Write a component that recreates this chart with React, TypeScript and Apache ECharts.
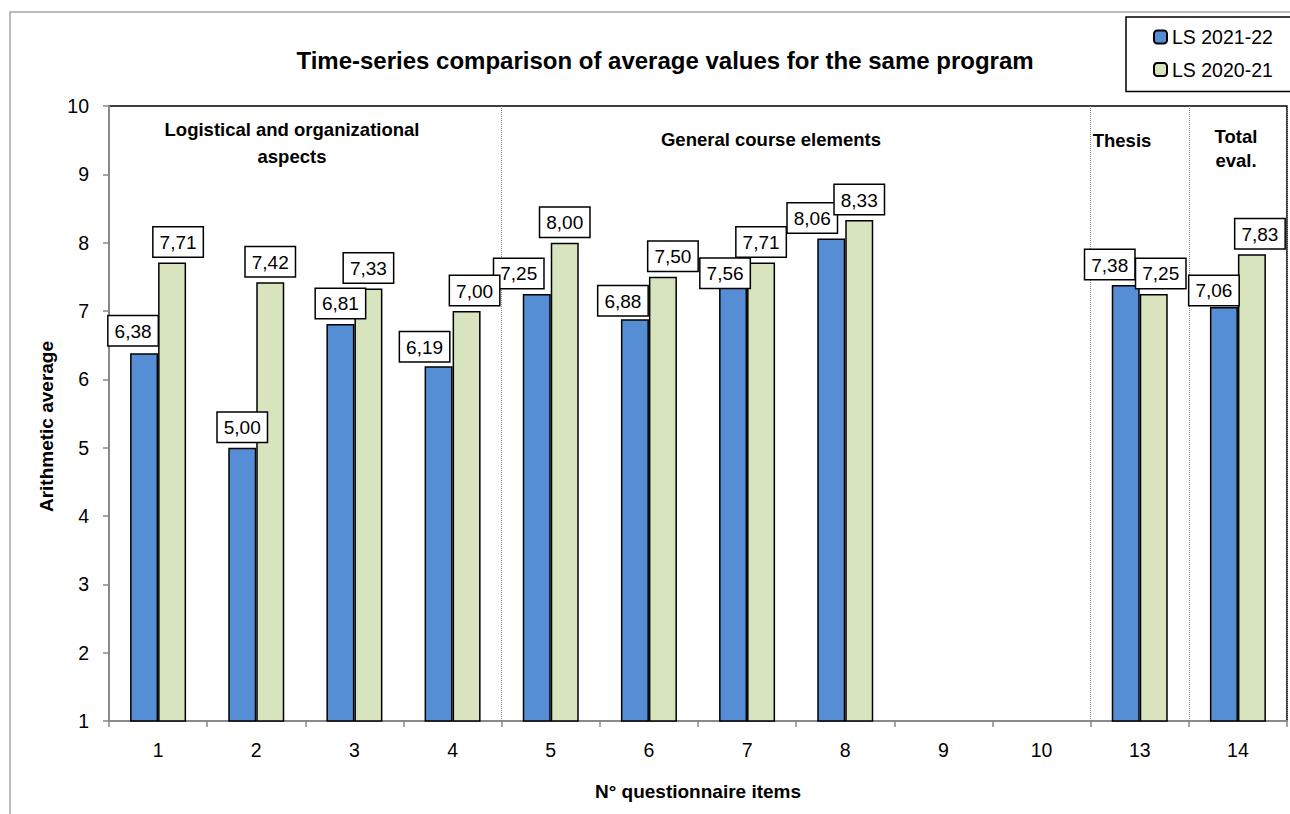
import React, { useEffect, useRef } from "react";
import * as echarts from "echarts";

const CATEGORIES = ["1", "2", "3", "4", "5", "6", "7", "8", "9", "10", "13", "14"];
const SERIES_2021_22 = [6.38, 5.0, 6.81, 6.19, 7.25, 6.88, 7.56, 8.06, 0, 0, 7.38, 7.06];
const SERIES_2020_21 = [7.71, 7.42, 7.33, 7.0, 8.0, 7.5, 7.71, 8.33, 0, 0, 7.25, 7.83];
const Y_TICKS = { min: 1, max: 10, interval: 1 };
const TITLE = "Time-series comparison of average values for the same program";
const SECTION_BREAKS = [4, 10, 11];

// label nudges (style only, in px)
const LABEL_NUDGE_A = [[-11, -2], [0, 0], [0, 0], [-14, 1], [-18, 0], [-12, 2], [-8, 21], [-19, 0], [0, 0], [0, 0], [-16, 0], [-10, 4]];
const LABEL_NUDGE_B = [[6, 0], [0, 0], [0, 0], [8, 0], [0, 0], [10, 0], [0, 0], [0, 0], [0, 0], [0, 0], [7, 0], [8, 0]];

const FONT = "'Liberation Sans', Arial, sans-serif";

const fmt = (v: number) => v.toFixed(2).replace(".", ",");

function buildData(values: number[], nudges: number[][]) {
  return values.map((v, i) => ({
    value: v,
    label: { show: v > Y_TICKS.min, offset: nudges[i] },
  }));
}

const labelStyle = {
  show: true,
  position: "top",
  distance: 6,
  formatter: (p: any) => fmt(p.value),
  fontSize: 19,
  lineHeight: 22,
  color: "#000",
  fontFamily: FONT,
  backgroundColor: "#fff",
  borderColor: "#000",
  borderWidth: 1.5,
  padding: [4, 6, 3, 6],
};

export default function App() {
  const ref = useRef<HTMLDivElement>(null);
  useEffect(() => {
    if (!ref.current) return;
    const chart = echarts.init(ref.current, null, { renderer: "svg" });
    const sectionFont = { fontSize: 18.5, fontWeight: "bold", fontFamily: FONT, fill: "#000" };
    chart.setOption({
      animation: false,
      textStyle: { fontFamily: FONT },
      title: {
        text: TITLE,
        left: 660,
        top: 43,
        textAlign: "center",
        textStyle: { fontSize: 24, fontWeight: "bold", color: "#000", fontFamily: FONT },
      },
      legend: {
        orient: "vertical",
        left: 1126,
        top: 17,
        padding: [10, 40, 12, 27],
        itemGap: 12.5,
        itemWidth: 13,
        itemHeight: 13,
        borderColor: "#000",
        borderWidth: 1.5,
        backgroundColor: "#fff",
        textStyle: { fontSize: 19.5, lineHeight: 20, color: "#000", fontFamily: FONT },
        data: ["LS 2021-22", "LS 2020-21"],
      },
      grid: {
        left: 109,
        right: 3,
        top: 106,
        bottom: 93,
        show: true,
        borderColor: "#000",
        borderWidth: 1.5,
        backgroundColor: "transparent",
      },
      xAxis: {
        type: "category",
        data: CATEGORIES,
        name: "N° questionnaire items",
        nameLocation: "middle",
        nameGap: 61,
        nameTextStyle: { fontSize: 19, fontWeight: "bold", color: "#000", fontFamily: FONT },
        axisLine: { lineStyle: { color: "#898989", width: 2 } },
        axisTick: { show: true, interval: 0, length: 6, lineStyle: { color: "#898989", width: 1.5 } },
        axisLabel: { interval: 0, margin: 19, fontSize: 19.5, color: "#000", fontFamily: FONT },
        splitLine: {
          show: true,
          interval: (index: number) => SECTION_BREAKS.includes(index),
          lineStyle: { color: "#7f7f7f", type: "dotted", width: 1 },
        },
      },
      yAxis: {
        type: "value",
        min: Y_TICKS.min,
        max: Y_TICKS.max,
        interval: Y_TICKS.interval,
        name: "Arithmetic average",
        nameLocation: "middle",
        nameGap: 52,
        nameTextStyle: { fontSize: 19, fontWeight: "bold", color: "#000", fontFamily: FONT, padding: [0, 26, 0, 0] },
        axisLine: { show: true, lineStyle: { color: "#898989", width: 2 } },
        axisTick: { show: true, length: 6, lineStyle: { color: "#898989", width: 1.5 } },
        axisLabel: { margin: 20, fontSize: 19.5, color: "#000", fontFamily: FONT },
        splitLine: { show: false },
      },
      series: [
        {
          name: "LS 2021-22",
          type: "bar",
          barWidth: 28,
          barGap: "0%",
          clip: true,
          itemStyle: { color: "#558ed5", borderColor: "#000", borderWidth: 1.5 },
          label: labelStyle,
          data: buildData(SERIES_2021_22, LABEL_NUDGE_A),
        },
        {
          name: "LS 2020-21",
          type: "bar",
          barWidth: 28,
          barGap: "0%",
          clip: true,
          itemStyle: { color: "#d7e4bd", borderColor: "#000", borderWidth: 1.5 },
          label: labelStyle,
          data: buildData(SERIES_2020_21, LABEL_NUDGE_B),
        },
      ],
      graphic: [
        {
          type: "rect",
          silent: true,
          z: -10,
          shape: { x: 10, y: 12, width: 1320, height: 840 },
          style: { fill: "none", stroke: "#a6a6a6", lineWidth: 1.5 },
        },
        {
          type: "text",
          x: 292,
          y: 143,
          style: { ...sectionFont, text: "Logistical and organizational\naspects", align: "center", verticalAlign: "middle", lineHeight: 27 },
        },
        {
          type: "text",
          x: 771,
          y: 139,
          style: { ...sectionFont, text: "General course elements", align: "center", verticalAlign: "middle" },
        },
        {
          type: "text",
          x: 1122,
          y: 140,
          style: { ...sectionFont, text: "Thesis", align: "center", verticalAlign: "middle" },
        },
        {
          type: "text",
          x: 1236,
          y: 148,
          style: { ...sectionFont, text: "Total\neval.", align: "center", verticalAlign: "middle", lineHeight: 24 },
        },
      ],
    });
    return () => chart.dispose();
  }, []);
  return (
    <div
      ref={ref}
      style={{ position: "absolute", left: 0, top: 0, width: 1290, height: 814, background: "#fff" }}
    />
  );
}
